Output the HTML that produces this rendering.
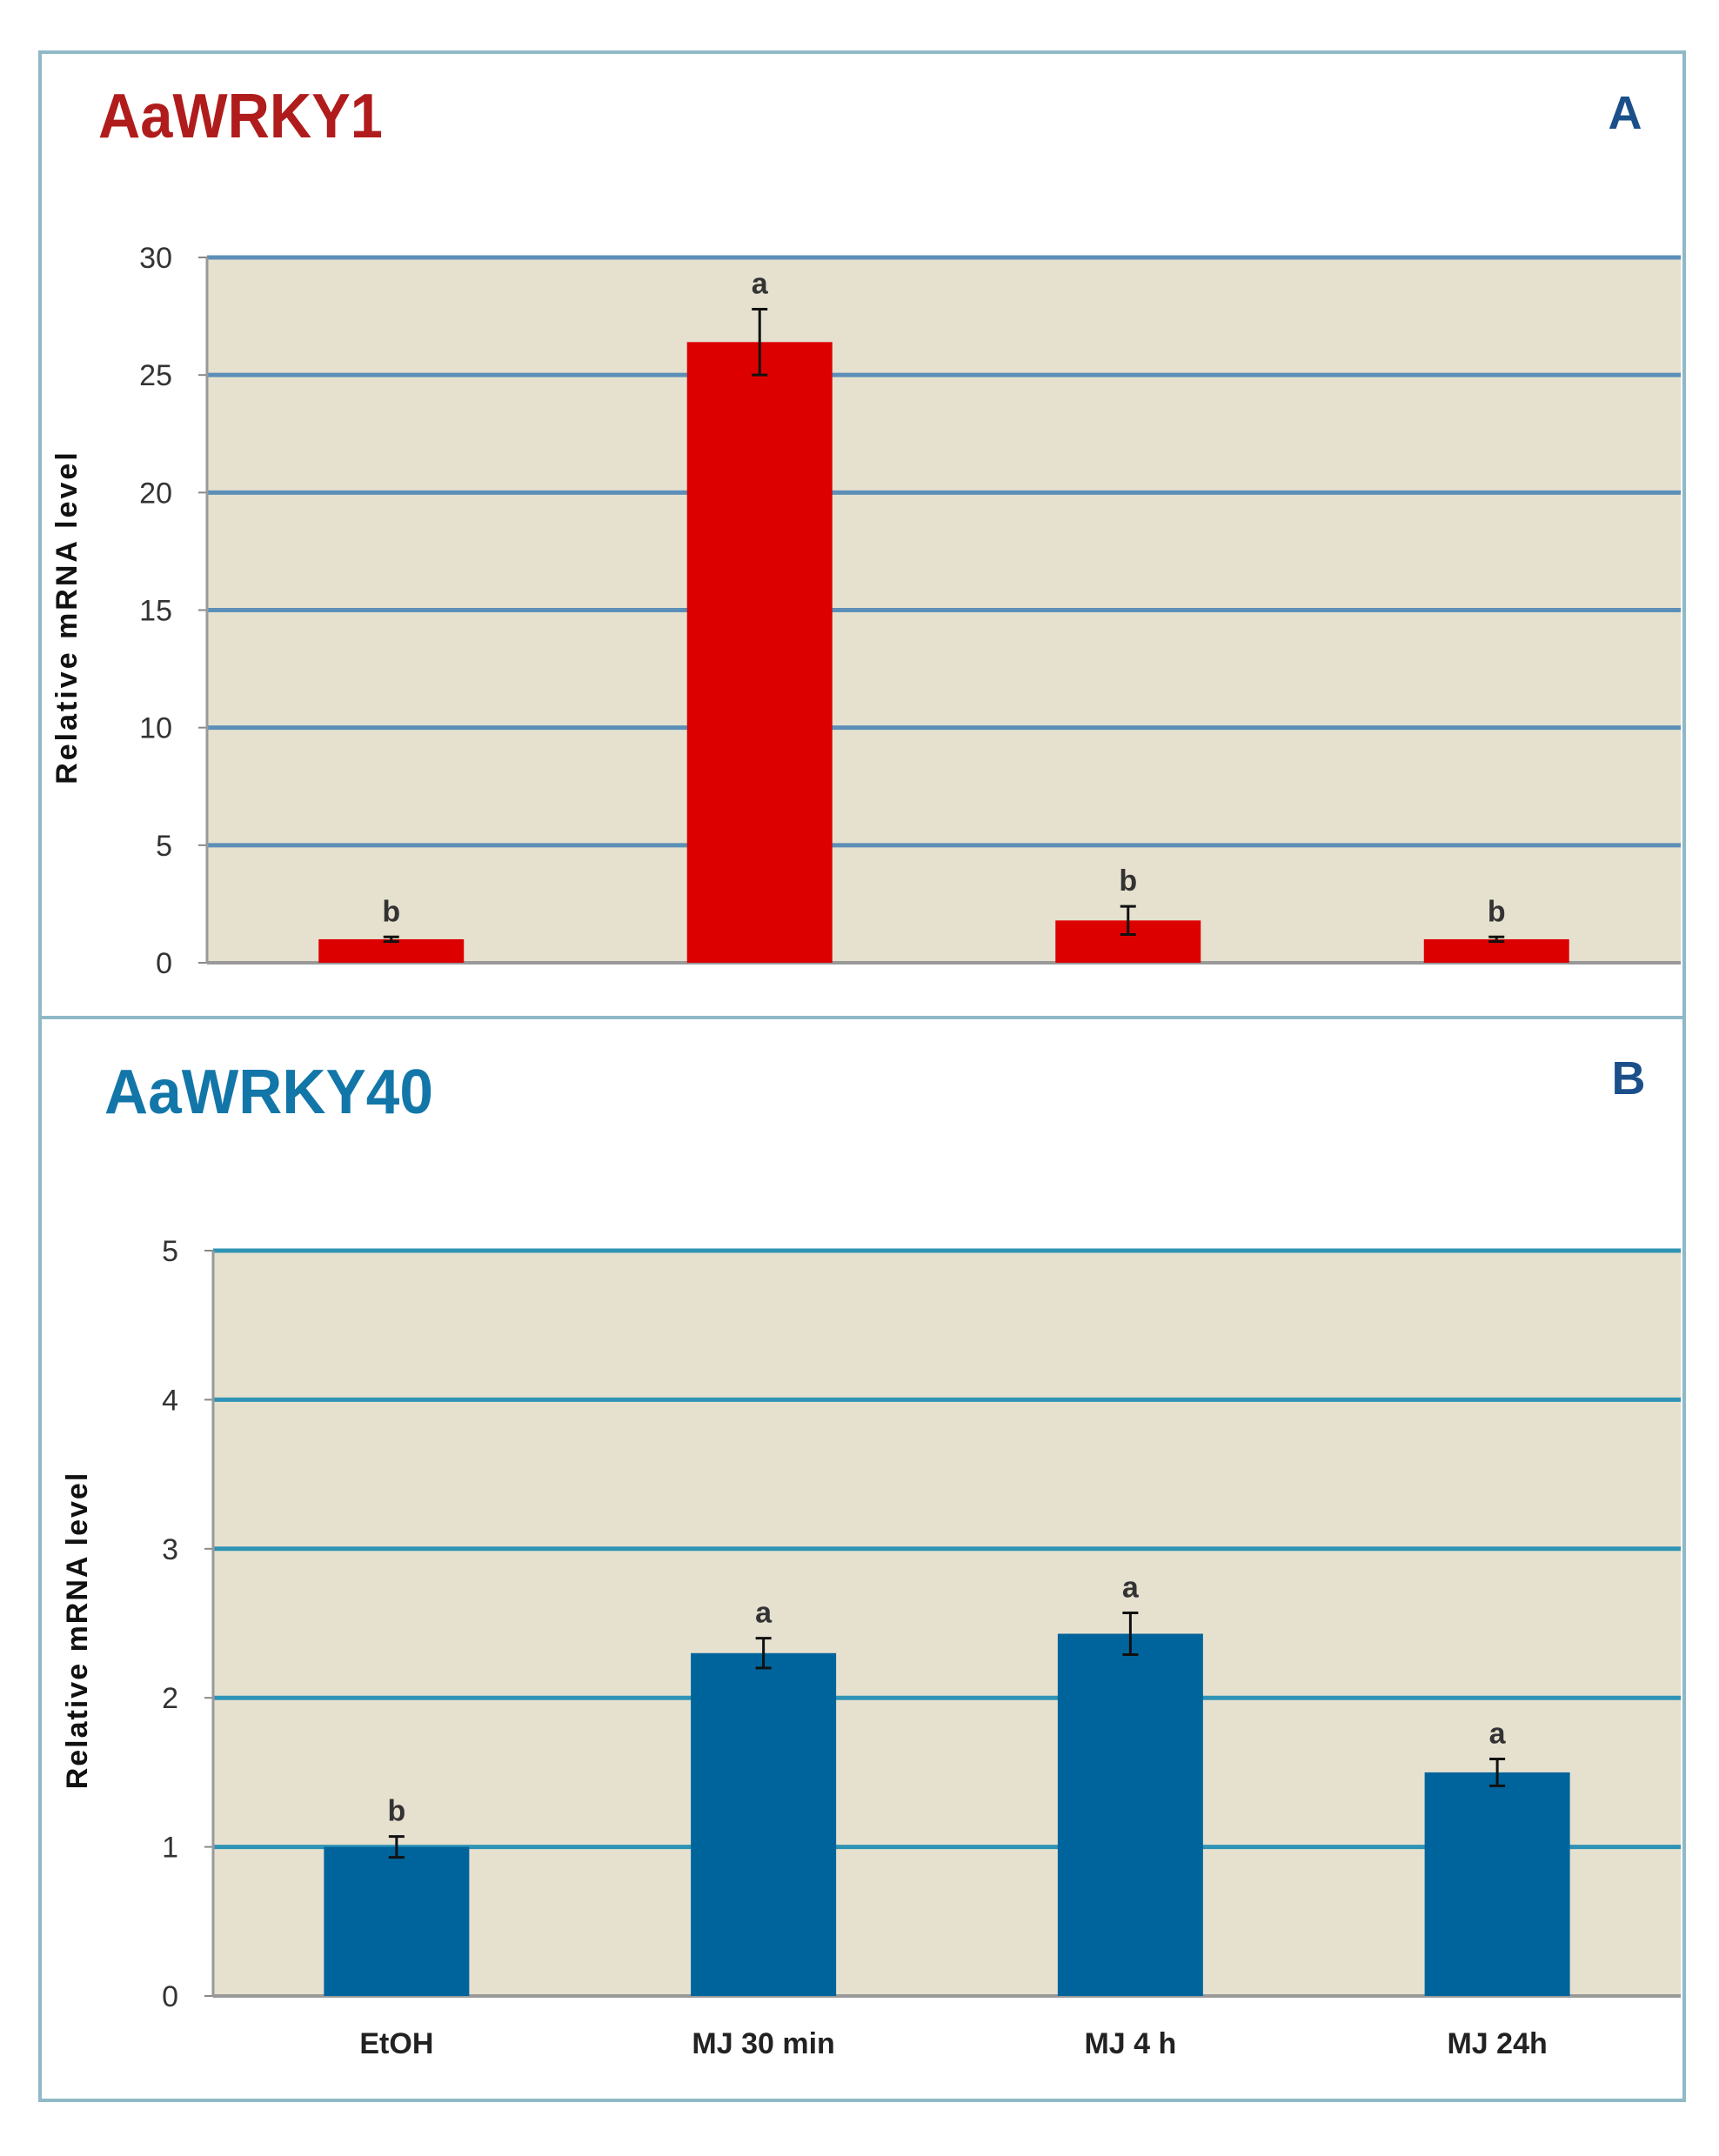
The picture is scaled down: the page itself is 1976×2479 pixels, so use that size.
<!DOCTYPE html>
<html><head><meta charset="utf-8"><style>
html,body{margin:0;padding:0;background:#fff;}
svg{display:block;}
text{font-family:"Liberation Sans",sans-serif;}
</style></head><body>
<svg id="fig" width="1976" height="2479" viewBox="0 0 1976 2479" xmlns="http://www.w3.org/2000/svg">
<rect x="46" y="60" width="1890" height="2355" fill="#fff" stroke="#8fb9c6" stroke-width="4"/>
<line x1="46" y1="1170" x2="1936" y2="1170" stroke="#8fb9c6" stroke-width="4"/>
<text x="113" y="158" font-size="72" font-weight="bold" fill="#b01c1c" textLength="327" lengthAdjust="spacingAndGlyphs">AaWRKY1</text>
<text x="1868" y="148" font-size="54" font-weight="bold" fill="#1b4f8a" text-anchor="middle">A</text>
<text x="120" y="1280" font-size="72" font-weight="bold" fill="#1276a8" textLength="378" lengthAdjust="spacingAndGlyphs">AaWRKY40</text>
<text x="1872" y="1258" font-size="54" font-weight="bold" fill="#1b4f8a" text-anchor="middle">B</text>
<g id="chartA"></g>
<g id="chartB"></g>
</svg>
<script>
const categories = ["EtOH", "MJ 30 min", "MJ 4 h", "MJ 24h"];
const valuesA = [1.0, 26.4, 1.8, 1.0];
const errorsA = [0.1, 1.4, 0.6, 0.1];
const lettersA = ["b", "a", "b", "b"];
const ticksA = [0, 5, 10, 15, 20, 25, 30];
const valuesB = [1.0, 2.3, 2.43, 1.5];
const errorsB = [0.07, 0.1, 0.14, 0.09];
const lettersB = ["b", "a", "a", "a"];
const ticksB = [0, 1, 2, 3, 4, 5];

const NS = "http://www.w3.org/2000/svg";
function mk(parent, tag, attrs, txt){
  const e = document.createElementNS(NS, tag);
  for (const k in attrs) e.setAttribute(k, attrs[k]);
  if (txt !== undefined) e.textContent = txt;
  parent.appendChild(e);
  return e;
}
function drawChart(g, cfg, values, errors, letters, ticks, showCats){
  const maxV = ticks[ticks.length-1];
  const y = v => cfg.bottom - (v / maxV) * (cfg.bottom - cfg.top);
  const band = (cfg.right - cfg.left) / categories.length;
  const x = i => cfg.left + band * (i + 0.5);
  const bg = mk(g, "rect", {x: cfg.left, y: cfg.top, width: cfg.right-cfg.left, height: cfg.bottom-cfg.top, fill: "#e6e1cf"});
  
  
  ticks.forEach(t => {
    if (t > 0) {
      const gl = mk(g, "line", {x1: cfg.left, x2: cfg.right, y1: y(t), y2: y(t), stroke: cfg.grid, "stroke-width": 5});
      
      
    }
    const tk = mk(g, "line", {x1: cfg.left-10, x2: cfg.left, y1: y(t), y2: y(t), stroke: "#888", "stroke-width": 2});
    
    
    const tl = mk(g, "text", {x: cfg.left-40, y: y(t)+12, "font-size": 34, fill: "#333", "text-anchor": "end"}, String(t));
    
    
  });
  const ax = mk(g, "line", {x1: cfg.left, x2: cfg.left, y1: cfg.top, y2: cfg.bottom, stroke: "#999", "stroke-width": 3});
  
  
  const bx = mk(g, "line", {x1: cfg.left, x2: cfg.right, y1: cfg.bottom, y2: cfg.bottom, stroke: "#999", "stroke-width": 4});
  
  
  const bw = 167;
  values.forEach((v, i) => {
    const b = mk(g, "rect", {x: x(i)-bw/2, y: y(v), width: bw, height: cfg.bottom - y(v), fill: cfg.color});
    
    
    const top = y(v + errors[i]), bot = y(v - errors[i]);
    const e = mk(g, "path", {d: `M${x(i)} ${top}V${bot}M${x(i)-9} ${top}H${x(i)+9}M${x(i)-9} ${bot}H${x(i)+9}`, stroke: "#111", "stroke-width": 3, fill: "none"});
    
    
    const l = mk(g, "text", {x: x(i), y: top - 18, "font-size": 34, "font-weight": "bold", fill: "#333", "text-anchor": "middle"}, letters[i]);
    
    
    if (showCats) {
      const c = mk(g, "text", {x: x(i), y: cfg.bottom + 66, "font-size": 34, "font-weight": "bold", fill: "#222", "text-anchor": "middle"}, categories[i]);
      
      
    }
  });
  const yt = mk(g, "text", {x: 0, y: 0, "font-size": 34, "font-weight": "bold", fill: "#111", "text-anchor": "middle", "letter-spacing": cfg.ls, transform: `translate(${cfg.ytx},${(cfg.top+cfg.bottom)/2+8}) rotate(-90)`}, "Relative mRNA  level");
  
  
}
drawChart(document.getElementById("chartA"), {left: 238, right: 1932, top: 296, bottom: 1107, color: "#dd0000", grid: "#5b8fb8", ytx: 88, ls: 3}, valuesA, errorsA, lettersA, ticksA, false);
drawChart(document.getElementById("chartB"), {left: 245, right: 1932, top: 1438, bottom: 2295, color: "#00649c", grid: "#2f93b5", ytx: 100, ls: 2}, valuesB, errorsB, lettersB, ticksB, true);
</script>
</body></html>
